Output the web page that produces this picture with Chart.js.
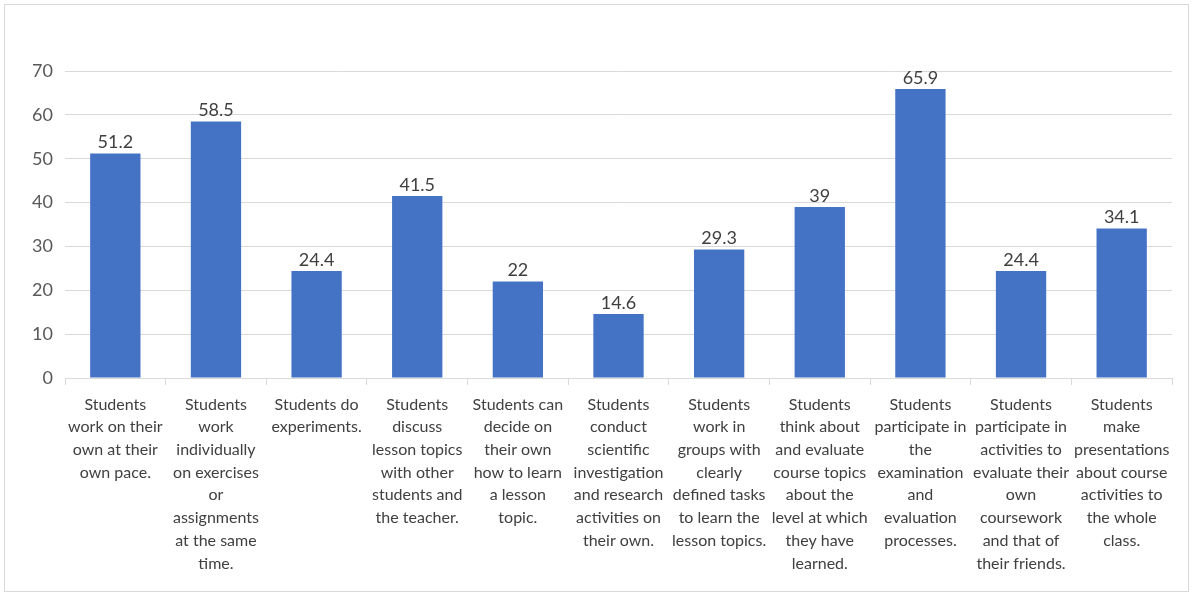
<!DOCTYPE html>
<html>
<head>
<meta charset="utf-8">
<script src="https://cdn.jsdelivr.net/npm/chart.js@4.4.0/dist/chart.umd.min.js"></script>
<style>
    html, body { margin: 0; padding: 0; background: #fff; }
    #wrap { position: relative; width: 1199px; height: 601px; }
    #frame {
        position: absolute; left: 4px; top: 4px; width: 1185px; height: 588px;
        border: 1px solid #d9d9d9; box-sizing: border-box; pointer-events: none;
    }
    canvas { position: absolute; left: 0; top: 0; }
</style>
</head>
<body>
<div id="wrap">
    <canvas id="chart" width="1199" height="601"></canvas>
    <div id="frame"></div>
</div>
<script>
// categories (pre-wrapped the way they appear under each bar)
const categories = [
    ['Students', 'work on their', 'own at their', 'own pace.'],
    ['Students', 'work', 'individually', 'on exercises', 'or', 'assignments', 'at the same', 'time.'],
    ['Students do', 'experiments.'],
    ['Students', 'discuss', 'lesson topics', 'with other', 'students and', 'the teacher.'],
    ['Students can', 'decide on', 'their own', 'how to learn', 'a lesson', 'topic.'],
    ['Students', 'conduct', 'scientific', 'investigation', 'and research', 'activities on', 'their own.'],
    ['Students', 'work in', 'groups with', 'clearly', 'defined tasks', 'to learn the', 'lesson topics.'],
    ['Students', 'think about', 'and evaluate', 'course topics', 'about the', 'level at which', 'they have', 'learned.'],
    ['Students', 'participate in', 'the', 'examination', 'and', 'evaluation', 'processes.'],
    ['Students', 'participate in', 'activities to', 'evaluate their', 'own', 'coursework', 'and that of', 'their friends.'],
    ['Students', 'make', 'presentations', 'about course', 'activities to', 'the whole', 'class.']
];
const values = [51.2, 58.5, 24.4, 41.5, 22, 14.6, 29.3, 39, 65.9, 24.4, 34.1];
const yTicks = [0, 10, 20, 30, 40, 50, 60, 70];

const FONT = 'Lato, Calibri, "Liberation Sans", sans-serif';

// draws the number above each bar
const valueLabels = {
    id: 'valueLabels',
    afterDatasetsDraw(chart) {
        const ctx = chart.ctx;
        const meta = chart.getDatasetMeta(0);
        ctx.save();
        ctx.font = '18px ' + FONT;
        ctx.fillStyle = '#404040';
        ctx.textAlign = 'center';
        ctx.textBaseline = 'bottom';
        meta.data.forEach((bar, i) => {
            ctx.fillText(String(values[i]), bar.x, bar.y - 2);
        });
        ctx.restore();
    }
};

new Chart(document.getElementById('chart').getContext('2d'), {
    type: 'bar',
    data: {
        labels: categories,
        datasets: [{
            data: values,
            backgroundColor: '#4472c4',
            borderWidth: 0,
            barPercentage: 0.5,
            categoryPercentage: 1
        }]
    },
    options: {
        responsive: false,
        animation: false,
        layout: { padding: { top: 71, right: 27, left: 0, bottom: 0 } },
        plugins: {
            legend: { display: false },
            tooltip: { enabled: false }
        },
        scales: {
            x: {
                grid: {
                    offset: true,
                    drawOnChartArea: false,
                    drawTicks: true,
                    tickLength: 7,
                    color: '#d9d9d9'
                },
                border: { color: '#d9d9d9' },
                ticks: {
                    maxRotation: 0,
                    autoSkip: false,
                    padding: 8,
                    color: '#404040',
                    font: { family: FONT, size: 16, lineHeight: 1.42 }
                },
                afterFit: s => { s.height = 223; }
            },
            y: {
                min: 0,
                max: 70,
                afterBuildTicks: s => { s.ticks = yTicks.map(v => ({ value: v })); },
                grid: { drawTicks: false, color: '#d9d9d9' },
                border: { display: false },
                ticks: {
                    padding: 12,
                    color: '#595959',
                    font: { family: FONT, size: 18 }
                },
                afterFit: s => { s.width = 65; }
            }
        }
    },
    plugins: [valueLabels]
});
</script>
</body>
</html>
